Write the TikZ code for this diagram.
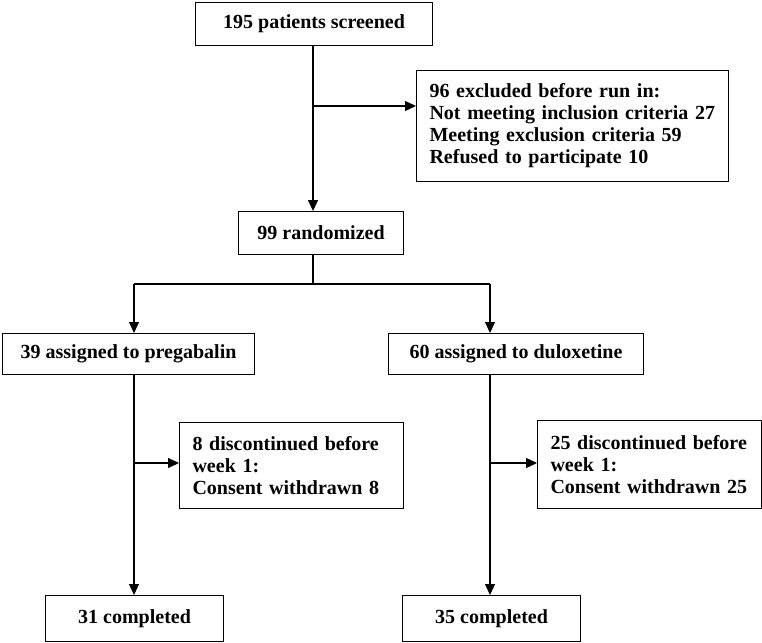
\documentclass[tikz,border=0pt]{standalone}
\usepackage{fontspec}
\setmainfont{Liberation Serif}
\usetikzlibrary{arrows.meta}
\begin{document}
\begin{tikzpicture}[x=1pt,y=-1pt,
  every node/.style={font=\fontsize{20pt}{22pt}\selectfont\bfseries},
  box/.style={draw, line width=1.1pt, anchor=north west, inner sep=0pt, align=center},
  lbox/.style={draw, line width=1.1pt, anchor=north west, inner xsep=13pt, inner ysep=0pt, align=left},
  conn/.style={line width=1.1pt},
  arr/.style={line width=1.1pt, -{Triangle[length=11pt,width=10pt]}}]
\useasboundingbox (0,0) rectangle (762,642);
% boxes
\node[box, minimum width=237pt, minimum height=43pt] (top) at (195,2) {195 patients screened};
\node[lbox, text width=286pt, minimum height=111pt] (excl) at (416,70)
  {96 excluded before run in:\\Not meeting inclusion criteria 27\\Meeting exclusion criteria 59\\Refused to participate 10};
\node[box, minimum width=165pt, minimum height=43pt] (rand) at (238,211) {99 randomized};
\node[box, minimum width=252pt, minimum height=41pt] (arm1) at (2,333) {39 assigned to pregabalin};
\node[box, minimum width=255pt, minimum height=41pt] (arm2) at (388,333) {60 assigned to duloxetine};
\node[lbox, text width=198pt, minimum height=86pt] (disc1) at (179,422)
  {8 discontinued before\\week 1:\\Consent withdrawn 8};
\node[lbox, text width=198pt, minimum height=88pt] (disc2) at (537,420)
  {25 discontinued before\\week 1:\\Consent withdrawn 25};
\node[box, minimum width=178pt, minimum height=46pt] (comp1) at (45,595) {31 completed};
\node[box, minimum width=178pt, minimum height=46pt] (comp2) at (402,595) {35 completed};
% junction coordinates
\coordinate (j0) at (313,106);
\coordinate (r1) at (313,284);
\coordinate (c1) at (134,284);
\coordinate (c2) at (490,284);
\coordinate (d1) at (134,463);
\coordinate (d2) at (490,463);
% connectors
\draw[arr] (top.south -| j0) -- (j0 |- rand.north);
\draw[arr] (j0) -- (j0 -| excl.west);
\draw[conn] (r1 |- rand.south) -- (r1);
\draw[conn] (c1) -- (c2);
\draw[arr] (c1) -- (c1 |- arm1.north);
\draw[arr] (c2) -- (c2 |- arm2.north);
\draw[arr] (c1 |- arm1.south) -- (c1 |- comp1.north);
\draw[arr] (c2 |- arm2.south) -- (c2 |- comp2.north);
\draw[arr] (d1) -- (d1 -| disc1.west);
\draw[arr] (d2) -- (d2 -| disc2.west);
\end{tikzpicture}
\end{document}
